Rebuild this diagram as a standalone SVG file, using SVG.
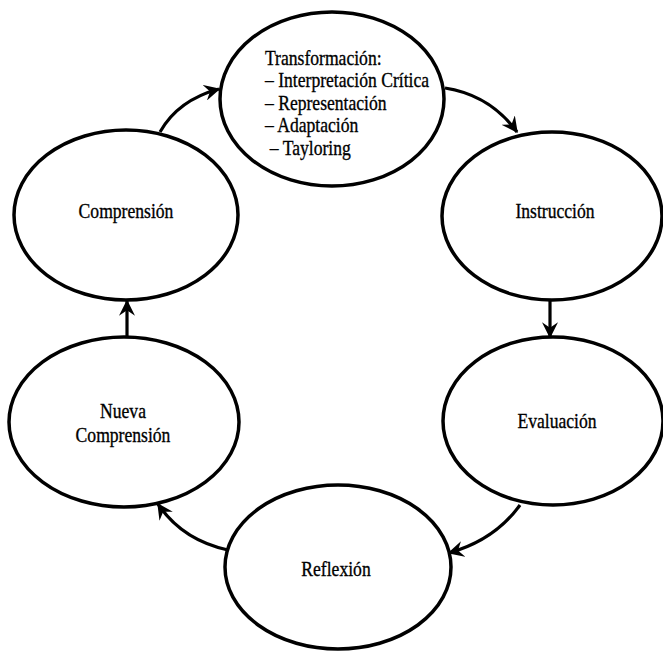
<svg xmlns="http://www.w3.org/2000/svg" width="663" height="652" viewBox="0 0 663 652">
<style>
.n{fill:#fff;stroke:#000;stroke-width:3.5}
.t{font-family:"Liberation Serif","Times New Roman",serif;font-size:22px;fill:#000;stroke:#000;stroke-width:0.35}
.c{fill:none;stroke:#000;stroke-width:3.2;marker-end:url(#ah)}
</style>
<defs>
<marker id="ah" viewBox="0 0 12 12" refX="11" refY="6" markerWidth="5" markerHeight="5" orient="auto" markerUnits="strokeWidth">
<path d="M0,0 L12,6 L0,12 L4,6 z" fill="#000"/>
</marker>
</defs>
<rect width="663" height="652" fill="#fff"/>
<g id="connectors">
<path class="c" d="M160,132 Q178,100 219,89"/>
<path class="c" d="M445,88 Q490,95 517,132"/>
<path class="c" d="M550,299 L550,337"/>
<path class="c" d="M520,505 Q495,540 449,553"/>
<path class="c" d="M228,550 Q182,540 158,504"/>
<path class="c" d="M127,337 L127,301"/>
</g>
<g id="transformacion">
<ellipse class="n" cx="332" cy="99" rx="112" ry="87"/>
<g transform="translate(265,0) scale(0.8,1)">
<text class="t" x="0" y="65">Transformación:</text>
<text class="t" x="0" y="87.5">– Interpretación Crítica</text>
<text class="t" x="0" y="110">– Representación</text>
<text class="t" x="0" y="132.5">– Adaptación</text>
<text class="t" x="6" y="155">– Tayloring</text>
</g>
</g>
<g id="comprension">
<ellipse class="n" cx="126" cy="215" rx="112" ry="85"/>
<text class="t" text-anchor="middle" transform="translate(126,218) scale(0.8,1)">Comprensión</text>
</g>
<g id="instruccion">
<ellipse class="n" cx="552" cy="216" rx="110" ry="84"/>
<text class="t" text-anchor="middle" transform="translate(555,218) scale(0.8,1)">Instrucción</text>
</g>
<g id="evaluacion">
<ellipse class="n" cx="553" cy="421" rx="110" ry="84"/>
<text class="t" text-anchor="middle" transform="translate(557,428) scale(0.8,1)">Evaluación</text>
</g>
<g id="reflexion">
<ellipse class="n" cx="338" cy="567" rx="113" ry="82"/>
<text class="t" text-anchor="middle" transform="translate(336,576) scale(0.8,1)">Reflexión</text>
</g>
<g id="nueva">
<ellipse class="n" cx="124" cy="422" rx="115" ry="85"/>
<text class="t" text-anchor="middle" transform="translate(123,418) scale(0.8,1)">Nueva</text>
<text class="t" text-anchor="middle" transform="translate(123,442) scale(0.8,1)">Comprensión</text>
</g>
</svg>
